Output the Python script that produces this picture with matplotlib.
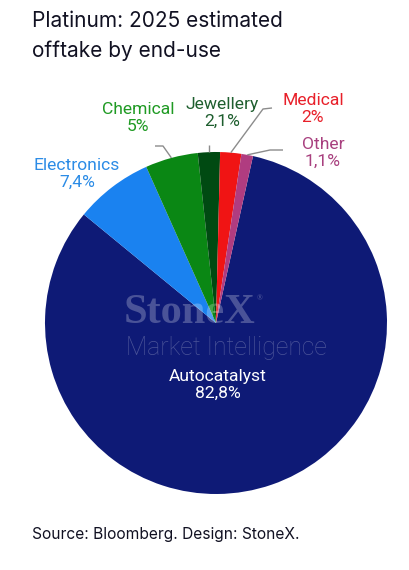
import matplotlib
matplotlib.use("Agg")
import matplotlib.pyplot as plt
import numpy as np

categories = ["Autocatalyst", "Electronics", "Chemical", "Jewellery", "Medical", "Other"]
values = [82.8, 7.4, 5.0, 2.1, 2.0, 1.1]
value_labels = ["82,8%", "7,4%", "5%", "2,1%", "2%", "1,1%"]

wedge_colors = ["#0E1A76", "#1A82F0", "#0A8714", "#004A12", "#F01414", "#B03C80"]
label_colors = [None, "#2C8CE6", "#1F9A23", "#1E5E2E", "#E8202A", "#A8407F"]

W, H = 409, 570
fig = plt.figure(figsize=(W / 100, H / 100), dpi=100)
fig.patch.set_facecolor("white")

cx, cy, R = 216, 323, 171
ax = fig.add_axes([(cx - R) / W, (H - cy - R) / H, 2 * R / W, 2 * R / H])


def px(x, y):
    return ((x - cx) / R, (cy - y) / R)


wedges, _ = ax.pie(values, colors=wedge_colors, startangle=77.5, counterclock=False,
                   radius=1, wedgeprops=dict(linewidth=0))
ax.set_xlim(-1, 1)
ax.set_ylim(-1, 1)
ax.set_aspect("equal")
ax.axis("off")

# watermark
ax.text(*px(190, 313), "StoneX", ha="center", va="center", fontsize=30.5,
        family="Liberation Serif", fontweight="bold", color="white", alpha=0.25)
ax.text(*px(260, 298), "®", ha="center", va="center", fontsize=5.5,
        family="Liberation Serif", color="white", alpha=0.3)
ax.text(*px(226, 348), "Market Intelligence", ha="center", va="center", fontsize=17.8,
        family="Roboto", fontweight="light", color="white", alpha=0.25)

# inside label
ax.text(*px(218, 385), f"{categories[0]}\n{value_labels[0]}", ha="center", va="center",
        fontsize=12.6, family="Roboto", color="white", linespacing=1.22)

# outside labels
label_pos = {1: (77, 174), 2: (138, 118), 3: (222, 113), 4: (313, 109), 5: (323, 153)}
leaders = {2: [(163, 146), (155, 146)], 3: [None], 4: [(263, 109), (272, 108)],
           5: [(270, 150), (283, 150)]}

for i, w in enumerate(wedges):
    if i == 0:
        continue
    x, y = label_pos[i]
    ax.text(*px(x, y), f"{categories[i]}\n{value_labels[i]}", ha="center", va="center",
            fontsize=12.6, family="Roboto", color=label_colors[i], linespacing=1.22)
    if i in leaders:
        ang = np.deg2rad((w.theta1 + w.theta2) / 2)
        ex, ey = np.cos(ang), np.sin(ang)
        pts = [(ex, ey)]
        for p in leaders[i]:
            if p is None:
                pts.append((ex, px(0, 145)[1]))
            else:
                pts.append(px(*p))
        xs, ys = zip(*pts)
        ax.plot(xs, ys, color="#8C8C8C", linewidth=1, clip_on=False, solid_capstyle="butt")

fig.text(32 / W, 1 - 11 / H, "Platinum: 2025 estimated\nofftake by end-use", ha="left", va="top",
         fontsize=15, family="Inter", color="#111122", linespacing=1.55)
fig.text(32 / W, 1 - 535 / H, "Source: Bloomberg. Design: StoneX.", ha="left", va="center",
         fontsize=11.2, family="Inter", color="#111122")

fig.savefig("out.png", dpi=100, facecolor="white")
